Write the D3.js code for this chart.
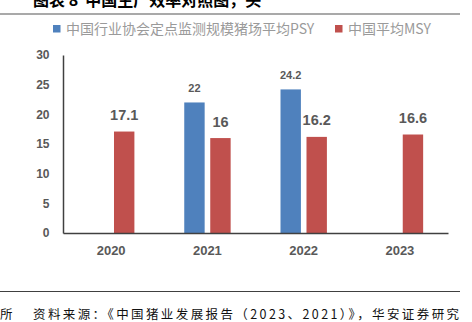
<!DOCTYPE html>
<html>
<head>
<meta charset="utf-8">
<script src="https://cdn.jsdelivr.net/npm/d3@7"></script>
<style>
  html, body { margin: 0; padding: 0; background: #fff; }
  svg { display: block; }
</style>
</head>
<body>
<svg id="chart" width="472" height="322"></svg>
<script>
// Production efficiency data (PSY / MSY by year)
const years = ["2020", "2021", "2022", "2023"];
const seriesKeys = ["psy", "msy"];
const seriesNames = ["中国行业协会定点监测规模猪场平均PSY", "中国平均MSY"];
const psyValues = [null, 22, 24.2, null];
const msyValues = [17.1, 16, 16.2, 16.6];
const yTicks = [0, 5, 10, 15, 20, 25, 30];

const colors = { psy: "#4f81bd", msy: "#c0504d" };
const rows = years.map((y, i) => ({ year: y, psy: psyValues[i], msy: msyValues[i] }));

const svg = d3.select("#chart");
const cjk = "'Noto Sans CJK SC', 'Noto Sans', sans-serif";
const num = "'Liberation Sans', Arial, sans-serif";

// Title (its upper half runs past the top edge)
svg.append("text")
  .attr("x", 33).attr("y", 5.5)
  .attr("font-family", cjk).attr("font-size", 16).attr("font-weight", "bold")
  .attr("fill", "#000")
  .attr("xml:space", "preserve")
  .text("图表 8  中国生产效率对照图，头");

svg.append("line")
  .attr("x1", 0).attr("x2", 460).attr("y1", 14).attr("y2", 14)
  .attr("stroke", "#8c8c8c").attr("stroke-width", 1.6);

// Scales
const plot = { left: 63, right: 448, top: 55, bottom: 233 };
const x0 = d3.scaleBand().domain(years).range([plot.left, plot.right]).padding(0);
const x1 = d3.scaleBand().domain(seriesKeys).range([25, 71.4]).paddingInner(0.215).paddingOuter(0);
const y = d3.scaleLinear().domain([0, 30]).range([plot.bottom, plot.top]);

// Legend
const legend = svg.append("g").attr("font-family", cjk).attr("font-size", 14).attr("fill", "#9a9a9a");
const legendPos = [53, 335];
seriesKeys.forEach((k, i) => {
  legend.append("rect").attr("x", legendPos[i]).attr("y", 25).attr("width", 7.5).attr("height", 7.5).attr("fill", colors[k]);
  legend.append("text").attr("x", legendPos[i] + 13).attr("y", 34).text(seriesNames[i]);
});

// Bars
const groups = svg.append("g").selectAll("g").data(rows).join("g")
  .attr("transform", d => `translate(${x0(d.year)},0)`);

groups.selectAll("rect")
  .data(d => seriesKeys.filter(k => d[k] != null).map(k => ({ key: k, value: d[k] })))
  .join("rect")
  .attr("x", d => x1(d.key))
  .attr("width", x1.bandwidth())
  .attr("y", d => y(d.value))
  .attr("height", d => y(0) - y(d.value))
  .attr("fill", d => colors[d.key]);

// Value labels
groups.selectAll("text")
  .data(d => seriesKeys.filter(k => d[k] != null).map(k => ({ key: k, value: d[k] })))
  .join("text")
  .attr("x", d => x1(d.key) + x1.bandwidth() / 2)
  .attr("y", d => y(d.value) - (d.key === "psy" ? 10.5 : 11.5))
  .attr("text-anchor", "middle")
  .attr("font-family", num).attr("font-weight", "bold")
  .attr("font-size", d => d.key === "psy" ? 11 : 14.5)
  .attr("fill", "#595959")
  .text(d => d.value);

// Y axis
const yAxis = svg.append("g")
  .attr("transform", `translate(${plot.left},0)`)
  .call(d3.axisLeft(y).tickValues(yTicks).tickSize(0).tickPadding(13.5));
yAxis.select(".domain").attr("stroke", "#404040").attr("stroke-width", 1.5);
yAxis.selectAll("text").attr("font-family", num).attr("font-weight", "bold")
  .attr("font-size", 12).attr("fill", "#595959");

// X axis
const xAxis = svg.append("g")
  .attr("transform", `translate(0,${plot.bottom})`)
  .call(d3.axisBottom(x0).tickSize(0).tickPadding(13));
xAxis.select(".domain").attr("stroke", "#404040").attr("stroke-width", 1.5);
xAxis.selectAll("text").attr("font-family", num).attr("font-weight", "bold")
  .attr("font-size", 13).attr("fill", "#595959");

// Footer
svg.append("line")
  .attr("x1", 0).attr("x2", 460).attr("y1", 291.5).attr("y2", 291.5)
  .attr("stroke", "#404040").attr("stroke-width", 1);

const footer = svg.append("g").attr("font-family", cjk).attr("font-size", 12.5).attr("fill", "#111");
footer.append("text").attr("x", 0).attr("y", 318.5).text("所");
footer.append("text").attr("x", 33).attr("y", 318.5).attr("letter-spacing", 2.4)
  .text("资料来源：《中国猪业发展报告（2023、2021）》，华安证券研究");
</script>
</body>
</html>
